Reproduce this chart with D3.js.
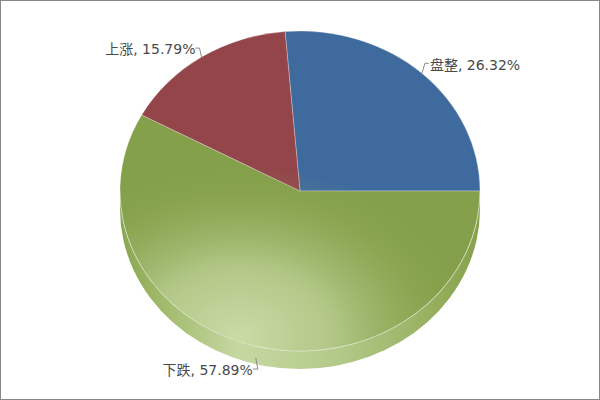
<!DOCTYPE html>
<html><head><meta charset="utf-8">
<script src="https://cdn.jsdelivr.net/npm/d3@7/dist/d3.min.js"></script>
<style>html,body{margin:0;padding:0;background:#fff}svg{display:block}</style>
</head><body><svg id="c" width="600" height="400"></svg>
<script>
const categories = ["盘整", "下跌", "上涨"];
const values = [26.32, 57.89, 15.79];
const labels = ["盘整, 26.32%", "下跌, 57.89%", "上涨, 15.79%"];
const colors = ["#3f6a9e", "#85a04a", "#93454a"];

const W = 600, H = 400;
const cx = 300, cy = 191, rx = 180, ry = 160, depth = 18;
const svg = d3.select("#c");
svg.append("rect").attr("x",0.5).attr("y",0.5).attr("width",W-1).attr("height",H-1)
  .attr("fill","#fff").attr("stroke","#868686");

const total = d3.sum(values);
const start = Math.PI/2 - values[0]/total*2*Math.PI;
const pie = d3.pie().sort(null).startAngle(start).endAngle(start+2*Math.PI);
const arcs = pie(values);
const arc = d3.arc().innerRadius(0).outerRadius(rx);

const defs = svg.append("defs");
const rg = defs.append("radialGradient").attr("id","light").attr("gradientUnits","userSpaceOnUse")
  .attr("cx",240).attr("cy",335).attr("r",200)
  .attr("gradientTransform","translate(240,335) scale(1.15,0.85) translate(-240,-335)");
rg.append("stop").attr("offset","0").attr("stop-color","#cadba6").attr("stop-opacity",1);
rg.append("stop").attr("offset","0.4").attr("stop-color","#c2d59c").attr("stop-opacity",0.75);
rg.append("stop").attr("offset","0.75").attr("stop-color","#a8c07a").attr("stop-opacity",0.25);
rg.append("stop").attr("offset","1").attr("stop-color","#85a04a").attr("stop-opacity",0);
const lg = defs.append("linearGradient").attr("id","side").attr("gradientUnits","userSpaceOnUse")
  .attr("x1",cx-rx).attr("x2",cx+rx).attr("y1",0).attr("y2",0);
[["0","#8aa550"],["0.1","#9db767"],["0.33","#c6d8a2"],["0.6","#b4ca8a"],["0.85","#98b162"],["1","#86a04a"]]
  .forEach(s=>lg.append("stop").attr("offset",s[0]).attr("stop-color",s[1]));

// side (lower half of the cylinder)
const p = `M${cx+rx},${cy} L${cx+rx},${cy+depth} A${rx},${ry} 0 0 1 ${cx-rx},${cy+depth} L${cx-rx},${cy} A${rx},${ry} 0 0 0 ${cx+rx},${cy} Z`;
svg.append("path").attr("d",p).attr("fill","url(#side)");

const g = svg.append("g").attr("transform",`translate(${cx},${cy}) scale(1,${ry/rx})`);
g.selectAll("path.s").data(arcs).join("path").attr("class","s")
  .attr("d",arc).attr("fill",(d,i)=>colors[i])
  .attr("stroke","rgba(255,255,255,0.35)").attr("stroke-width",0.8).attr("vector-effect","non-scaling-stroke");
// lighting overlay
const clip = defs.append("clipPath").attr("id","top");
clip.append("ellipse").attr("cx",cx).attr("cy",cy).attr("rx",rx).attr("ry",ry);
svg.append("ellipse").attr("cx",cx).attr("cy",cy).attr("rx",rx).attr("ry",ry)
  .attr("fill","url(#light)").attr("clip-path","url(#top)");
// rim highlight on bottom edge
svg.append("path").attr("d",`M${cx+rx},${cy} A${rx},${ry} 0 0 1 ${cx-rx},${cy}`)
  .attr("fill","none").attr("stroke","rgba(255,255,255,0.35)").attr("stroke-width",1);

// labels
const pt = a => [cx + rx*Math.sin(a), cy - ry*Math.cos(a)];
const fontFam = "'DejaVu Sans','Noto Sans CJK SC',sans-serif";
arcs.forEach((d,i)=>{
  const m = (d.startAngle+d.endAngle)/2;
  let [x,y] = pt(m);
  if (Math.cos(m) < 0) y += depth - 6;
  const right = Math.sin(m) > 0;
  let lp, tx, ty, anchor;
  if (right) {
    lp = `M${x},${y} L${x+3},${y-10} L${x+7},${y-10}`;
    tx = x+8; ty = y-3; anchor = "start";
  } else if (Math.cos(m) > 0) {
    lp = `M${x},${y} L${x-2},${y-9} L${x-6},${y-9}`;
    tx = x-6; ty = y-3; anchor = "end";
  } else {
    lp = `M${x},${y} L${x+2},${y+11} L${x-3},${y+11}`;
    tx = x-3; ty = y+17; anchor = "end";
  }
  svg.append("path").attr("d",lp).attr("fill","none").attr("stroke","#8a8a8a").attr("stroke-width",1);
  svg.append("text").attr("x",tx).attr("y",ty).attr("text-anchor",anchor)
    .attr("font-family",fontFam).attr("font-size",14).attr("fill","#4a4a4a").text(labels[i]);
});
</script></body></html>
